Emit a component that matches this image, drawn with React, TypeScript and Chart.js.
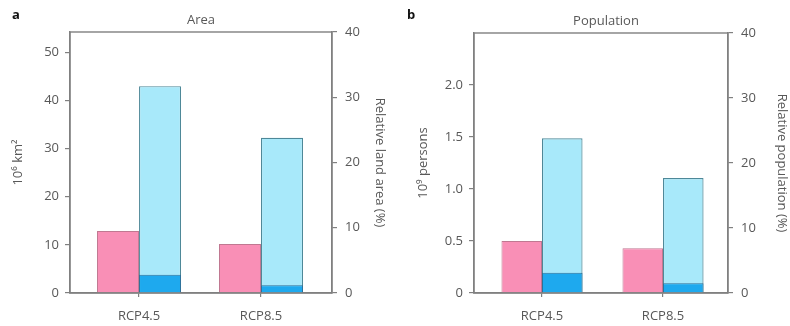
import React, { useEffect, useRef } from "react";
import { Chart, registerables } from "chart.js";

Chart.register(...registerables);

const categories = ["RCP4.5", "RCP8.5"];

// Panel a: Area
const areaAbsolute = [12.9, 10.2]; // 10^6 km^2 (pink, left axis)
const areaRelativeTotal = [31.7, 23.8]; // % (light blue, right axis)
const areaRelativeInner = [2.8, 1.2]; // % (dark blue, right axis)
const areaLeftTicks = [0, 10, 20, 30, 40, 50];

// Panel b: Population
const popAbsolute = [0.5, 0.43]; // 10^9 persons (pink, left axis)
const popRelativeTotal = [23.8, 17.7]; // %
const popRelativeInner = [3.1, 1.5]; // %
const popLeftTicks = [0, 0.5, 1.0, 1.5, 2.0];

const rightTicks = [0, 10, 20, 30, 40];

const PINK = "#F98FB6";
const PINK_BORDER = "#C07891";
const LIGHT = "#A8E9FA";
const LIGHT_BORDER = "#4E8898";
const DARK = "#1EA9EE";
const DARK_BORDER = "#2F7098";
const AXIS = "#808080";
const TEXT = "#585858";
const FONT = "'Open Sans', 'DejaVu Sans', sans-serif";
const FS = 13;

type PanelProps = {
  letter: string;
  title: string;
  leftTitle: string;
  rightTitle: string;
  abs: number[];
  relTotal: number[];
  relInner: number[];
  leftTicks: number[];
  leftMax: number;
  leftFmt: (v: number) => string;
  area: { left: number; right: number; top: number; bottom: number };
  xMin: number;
  xMax: number;
  groupPct: number;
  leftTitlePad: number;
  rightTitlePad: number;
  titleDx: number;
};

const W = 395;
const H = 326;

const toPoints = (vals: number[]) => vals.map((y, i) => ({ x: i, y }));

function Panel(p: PanelProps) {
  const ref = useRef<HTMLCanvasElement | null>(null);
  useEffect(() => {
    if (!ref.current) return;
    const framePlugin = {
      id: "frame",
      afterDraw(chart: any) {
        const { ctx, chartArea } = chart;
        ctx.save();
        ctx.strokeStyle = AXIS;
        ctx.lineWidth = 1.4;
        ctx.strokeRect(
          chartArea.left,
          chartArea.top,
          chartArea.right - chartArea.left,
          chartArea.bottom - chartArea.top
        );
        ctx.fillStyle = TEXT;
        ctx.font = `${FS}px ${FONT}`;
        ctx.textAlign = "center";
        ctx.textBaseline = "middle";
        ctx.fillText(
          p.title,
          (chartArea.left + chartArea.right) / 2 + p.titleDx,
          chartArea.top - 12
        );
        ctx.fillStyle = "#111";
        ctx.font = `bold ${FS}px ${FONT}`;
        ctx.textAlign = "left";
        ctx.fillText(p.letter, 12, 15);
        ctx.restore();
      },
    };
    const chart = new Chart(ref.current, {
      type: "bar",
      data: {
        datasets: [
          {
            label: "abs",
            data: toPoints(p.abs),
            backgroundColor: PINK,
            borderColor: PINK_BORDER,
            borderWidth: 1,
            stack: "p",
            yAxisID: "y",
          },
          {
            label: "inner",
            data: toPoints(p.relInner),
            backgroundColor: DARK,
            borderColor: DARK_BORDER,
            borderWidth: 1,
            stack: "b",
            yAxisID: "y1",
          },
          {
            label: "total",
            data: toPoints(p.relTotal),
            backgroundColor: LIGHT,
            borderColor: LIGHT_BORDER,
            borderWidth: 1.2,
            stack: "b",
            yAxisID: "y1",
          },
        ],
      },
      options: {
        animation: false,
        responsive: false,
        devicePixelRatio: 1,
        layout: { padding: { left: 0, right: 0, top: p.area.top, bottom: 0 } },
        categoryPercentage: p.groupPct,
        barPercentage: 1.0,
        plugins: {
          legend: { display: false },
          tooltip: { enabled: false },
          title: { display: false },
        },
        scales: {
          x: {
            type: "linear",
            min: p.xMin,
            max: p.xMax,
            offset: false,
            grid: {
              display: true,
              drawOnChartArea: false,
              drawTicks: true,
              tickLength: 4,
              offset: false,
              color: AXIS,
              lineWidth: 1.2,
            },
            border: { display: true, color: AXIS, width: 1.4 },
            ticks: {
              color: TEXT,
              font: { family: FONT, size: FS },
              padding: 11,
              maxRotation: 0,
              callback: (v: any) => categories[Number(v)] ?? "",
            },
            afterBuildTicks: (s: any) => {
              s.ticks = categories.map((_, i) => ({ value: i }));
            },
            afterFit: (s: any) => {
              s.height = H - p.area.bottom;
            },
          },
          y: {
            position: "left",
            min: 0,
            max: p.leftMax,
            stacked: false,
            grid: {
              drawOnChartArea: false,
              drawTicks: true,
              tickLength: 5,
              color: AXIS,
              lineWidth: 1.2,
            },
            border: { display: true, color: AXIS, width: 1.4 },
            ticks: {
              color: TEXT,
              font: { family: FONT, size: FS },
              padding: 6,
              callback: (v: any) => p.leftFmt(Number(v)),
            },
            afterBuildTicks: (s: any) => {
              s.ticks = p.leftTicks.map((v) => ({ value: v }));
            },
            title: {
              display: true,
              text: p.leftTitle,
              color: TEXT,
              font: { family: FONT, size: FS },
              padding: { top: p.leftTitlePad, bottom: 0 },
            },
            afterFit: (s: any) => {
              s.width = p.area.left;
            },
          },
          y1: {
            position: "right",
            min: 0,
            max: 40,
            stacked: false,
            grid: {
              drawOnChartArea: false,
              drawTicks: true,
              tickLength: 5,
              color: AXIS,
              lineWidth: 1.2,
            },
            border: { display: true, color: AXIS, width: 1.4 },
            ticks: {
              color: TEXT,
              font: { family: FONT, size: FS },
              padding: 8,
              callback: (v: any) => String(v),
            },
            afterBuildTicks: (s: any) => {
              s.ticks = rightTicks.map((v) => ({ value: v }));
            },
            title: {
              display: true,
              text: p.rightTitle,
              color: TEXT,
              font: { family: FONT, size: FS },
              padding: { top: p.rightTitlePad, bottom: 0 },
            },
            afterFit: (s: any) => {
              s.width = W - p.area.right;
            },
          },
        },
      } as any,
      plugins: [framePlugin],
    });
    return () => chart.destroy();
  }, []);
  return <canvas ref={ref} width={W} height={H} style={{ width: W, height: H, display: "block" }} />;
}

export default function App() {
  return (
    <div
      style={{
        position: "absolute",
        left: 0,
        top: 0,
        width: 790,
        height: 326,
        background: "#fff",
        display: "flex",
      }}
    >
      <Panel
        letter="a"
        title="Area"
        leftTitle="10⁶ km²"
        rightTitle="Relative land area (%)"
        abs={areaAbsolute}
        relTotal={areaRelativeTotal}
        relInner={areaRelativeInner}
        leftTicks={areaLeftTicks}
        leftMax={54.2}
        leftFmt={(v) => String(v)}
        area={{ left: 70, right: 332, top: 32, bottom: 293 }}
        xMin={-0.566}
        xMax={1.582}
        groupPct={0.689}
        leftTitlePad={10}
        rightTitlePad={7}
        titleDx={0}
      />
      <Panel
        letter="b"
        title="Population"
        leftTitle="10⁹ persons"
        rightTitle="Relative population (%)"
        abs={popAbsolute}
        relTotal={popRelativeTotal}
        relInner={popRelativeInner}
        leftTicks={popLeftTicks}
        leftMax={2.5}
        leftFmt={(v) => (v === 0 ? "0" : v.toFixed(1))}
        area={{ left: 79, right: 333, top: 33, bottom: 293 }}
        xMin={-0.562}
        xMax={1.537}
        groupPct={0.67}
        leftTitlePad={20}
        rightTitlePad={0}
        titleDx={5}
      />
    </div>
  );
}
